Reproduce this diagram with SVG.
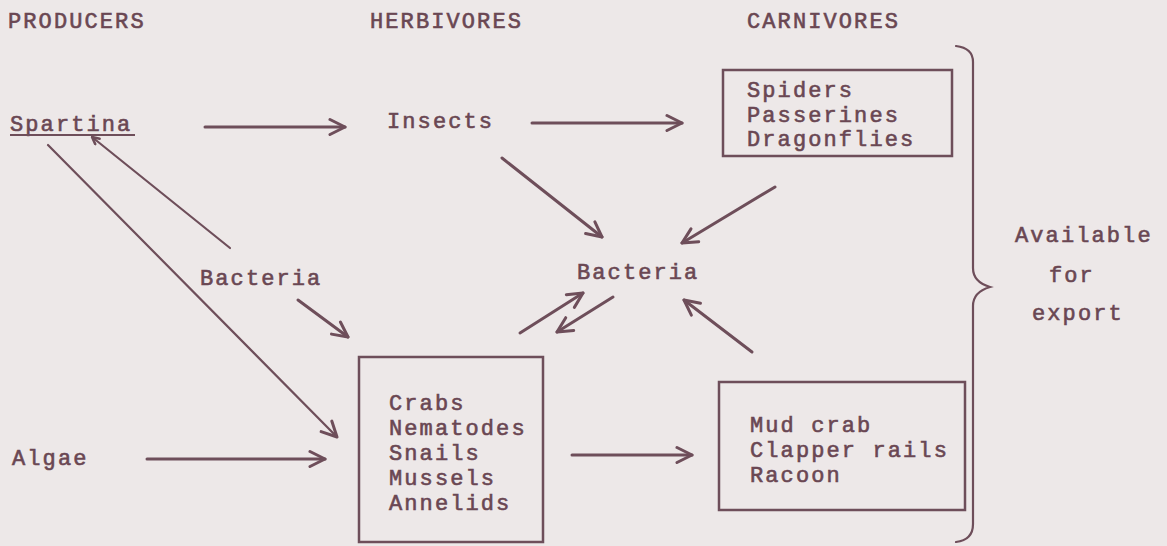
<svg xmlns="http://www.w3.org/2000/svg" width="1167" height="546" viewBox="0 0 1167 546">
<style>
  .t { font-family: "Liberation Mono", "Courier New", monospace; font-size: 22px; letter-spacing: 2.1px; fill: #6a4753; stroke: #6a4753; stroke-width: 0.6; }
  .ln { stroke: #6e4e5a; stroke-width: 3; fill: none; stroke-linecap: round; }
  .thin { stroke: #6e4e5a; stroke-width: 2.2; fill: none; stroke-linecap: round; }
  .box { stroke: #6e4e5a; stroke-width: 2.5; fill: none; }
</style>
<defs>
  <marker id="ah" viewBox="0 0 20 20" markerWidth="20" markerHeight="20" markerUnits="userSpaceOnUse" refX="17" refY="10" orient="auto">
    <path d="M2,2.5 L17,10 L2,17.5" fill="none" stroke="#6e4e5a" stroke-width="3" stroke-linecap="round" stroke-linejoin="round"/>
  </marker>
  <marker id="ahs" viewBox="0 0 10 10" markerWidth="10" markerHeight="10" markerUnits="userSpaceOnUse" refX="9" refY="5" orient="auto">
    <path d="M2,1.5 L9,5 L2,8.5" fill="none" stroke="#6e4e5a" stroke-width="2.5" stroke-linecap="round" stroke-linejoin="round"/>
  </marker>
</defs>
<rect width="1167" height="546" fill="#ede8e8"/>

<g id="headings">
  <text class="t" x="8" y="28">PRODUCERS</text>
  <text class="t" x="370" y="28">HERBIVORES</text>
  <text class="t" x="747" y="28">CARNIVORES</text>
</g>

<g id="spartina">
  <text class="t" x="10" y="131">Spartina</text>
  <line x1="10" y1="135" x2="135" y2="135" stroke="#6e4e5a" stroke-width="2"/>
</g>
<g id="algae"><text class="t" x="12" y="465">Algae</text></g>
<g id="bacteria-left"><text class="t" x="200" y="285">Bacteria</text></g>
<g id="insects"><text class="t" x="387" y="128">Insects</text></g>
<g id="bacteria-center"><text class="t" x="577" y="279">Bacteria</text></g>

<g id="herbivore-box">
  <rect class="box" x="359" y="357" width="184" height="185"/>
  <text class="t" x="389" y="410">Crabs</text>
  <text class="t" x="389" y="435">Nematodes</text>
  <text class="t" x="389" y="460">Snails</text>
  <text class="t" x="389" y="485">Mussels</text>
  <text class="t" x="389" y="510">Annelids</text>
</g>

<g id="spiders-box">
  <rect class="box" x="723" y="70" width="229" height="86"/>
  <text class="t" x="747" y="97">Spiders</text>
  <text class="t" x="747" y="122">Passerines</text>
  <text class="t" x="747" y="146">Dragonflies</text>
</g>

<g id="mudcrab-box">
  <rect class="box" x="719" y="382" width="246" height="128"/>
  <text class="t" x="750" y="432">Mud crab</text>
  <text class="t" x="750" y="457">Clapper rails</text>
  <text class="t" x="750" y="482">Racoon</text>
</g>

<g id="export">
  <path class="thin" d="M956,46 Q973,48 973,62 L973,268 Q973,282 990,287 Q973,292 973,306 L973,524 Q973,540 956,542"/>
  <text class="t" x="1015" y="242">Available</text>
  <text class="t" x="1049" y="282">for</text>
  <text class="t" x="1032" y="320">export</text>
</g>

<g id="connectors">
  <line class="ln" x1="205" y1="127" x2="345" y2="127" marker-end="url(#ah)"/>
  <line class="ln" x1="532" y1="123" x2="682" y2="123" marker-end="url(#ah)"/>
  <line class="thin" x1="230" y1="248" x2="92" y2="137" marker-end="url(#ahs)"/>
  <line class="thin" x1="48" y1="145" x2="337" y2="437" marker-end="url(#ah)"/>
  <line class="ln" x1="298" y1="300" x2="348" y2="337" marker-end="url(#ah)"/>
  <line class="ln" x1="147" y1="459" x2="325" y2="459" marker-end="url(#ah)"/>
  <line class="ln" x1="572" y1="455" x2="692" y2="455" marker-end="url(#ah)"/>
  <line class="ln" x1="502" y1="158" x2="602" y2="237" marker-end="url(#ah)"/>
  <line class="ln" x1="775" y1="187" x2="682" y2="243" marker-end="url(#ah)"/>
  <line class="ln" x1="752" y1="352" x2="684" y2="300" marker-end="url(#ah)"/>
  <line class="ln" x1="520" y1="333" x2="583" y2="293" marker-end="url(#ah)"/>
  <line class="ln" x1="613" y1="297" x2="557" y2="332" marker-end="url(#ah)"/>
</g>
</svg>
